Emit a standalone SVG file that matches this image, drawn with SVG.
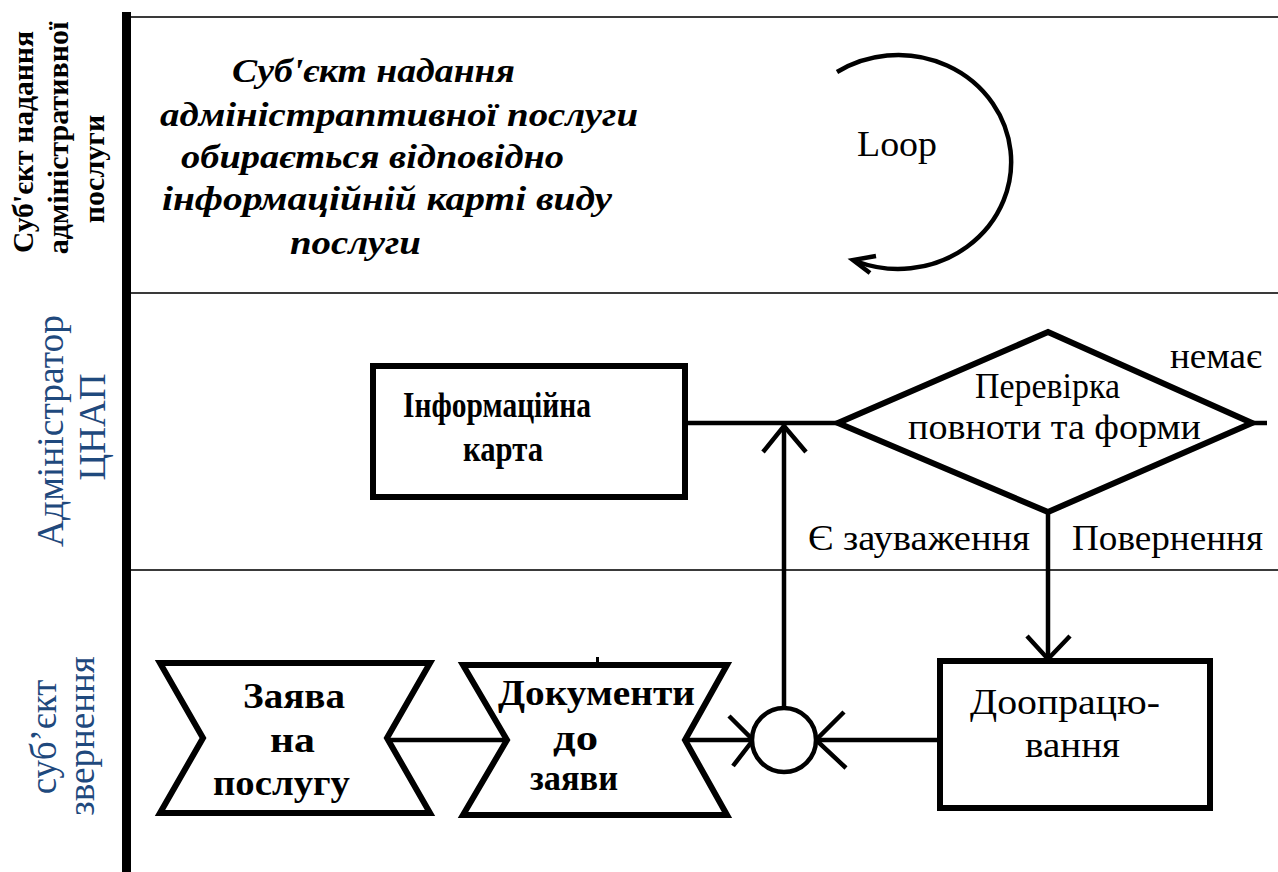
<svg xmlns="http://www.w3.org/2000/svg" width="1278" height="872" viewBox="0 0 1278 872">
  <style>
    .lane-line { stroke: #3a3a3a; stroke-width: 2; fill: none; }
    .bar { fill: #000; }
    .shape { fill: #fff; stroke: #000; stroke-width: 6; stroke-linejoin: miter; }
    .conn { fill: none; stroke: #000; stroke-width: 4.5; stroke-linecap: butt; stroke-linejoin: miter; }
    text { font-family: 'Liberation Serif', 'Times New Roman', serif; }
    .lbl-top { font-weight: bold; font-size: 30px; fill: #000; }
    .lbl-blue { font-size: 37px; fill: #1F497D; }
    .note { font-weight: bold; font-style: italic; font-size: 33px; fill: #000; }
    .bold { font-weight: bold; font-size: 36px; fill: #000; }
    .reg { font-size: 35px; fill: #000; }
  </style>

  <rect width="1278" height="872" fill="#fff"/>

  <!-- swimlane frame -->
  <g id="lanes">
    <line class="lane-line" x1="131" y1="17" x2="1278" y2="17"/>
    <line class="lane-line" x1="131" y1="293" x2="1278" y2="293"/>
    <line class="lane-line" x1="131" y1="570" x2="1278" y2="570"/>
    <rect class="bar" x="122" y="12" width="9" height="860"/>
  </g>

  <!-- lane titles -->
  <g id="lane-provider">
    <text class="lbl-top" text-anchor="middle" transform="translate(33,142) rotate(-90)" textLength="222" lengthAdjust="spacingAndGlyphs">Суб'єкт надання</text>
    <text class="lbl-top" text-anchor="middle" transform="translate(68,138) rotate(-90)">адміністративної</text>
    <text class="lbl-top" text-anchor="middle" transform="translate(104,169) rotate(-90)">послуги</text>
  </g>
  <g id="lane-admin">
    <text class="lbl-blue" text-anchor="middle" transform="translate(63,431) rotate(-90)" textLength="232" lengthAdjust="spacingAndGlyphs">Адміністратор</text>
    <text class="lbl-blue" text-anchor="middle" transform="translate(105,427) rotate(-90)">ЦНАП</text>
  </g>
  <g id="lane-applicant">
    <text class="lbl-blue" text-anchor="middle" transform="translate(56,737) rotate(-90)">суб’єкт</text>
    <text class="lbl-blue" text-anchor="middle" transform="translate(94,736) rotate(-90)">звернення</text>
  </g>

  <!-- note in the provider lane -->
  <g id="provider-note">
    <text class="note" x="232" y="82" textLength="283" lengthAdjust="spacingAndGlyphs">Суб'єкт надання</text>
    <text class="note" x="160" y="126" textLength="478" lengthAdjust="spacingAndGlyphs">адміністраптивної послуги</text>
    <text class="note" x="181" y="168" textLength="383" lengthAdjust="spacingAndGlyphs">обирається відповідно</text>
    <text class="note" x="162" y="210" textLength="450" lengthAdjust="spacingAndGlyphs">інформаційній карті виду</text>
    <text class="note" x="290" y="254" textLength="131" lengthAdjust="spacingAndGlyphs">послуги</text>
  </g>

  <!-- loop -->
  <g id="loop">
    <path class="conn" d="M837 72 A113 107 0 1 1 858 262"/>
    <polyline class="conn" stroke-width="3.5" points="876,256 853,260 870,273"/>
    <text class="reg" x="857" y="156" textLength="80" lengthAdjust="spacingAndGlyphs">Loop</text>
  </g>

  <!-- connectors -->
  <g id="connectors">
    <path class="conn" d="M387 740 H506"/>
    <path class="conn" d="M685 740 H752"/>
    <polyline class="conn" points="729,716 753,740 733,766"/>
    <path class="conn" d="M940 740 H816"/>
    <polyline class="conn" points="844,712 816,740 846,768"/>
    <path class="conn" d="M784 708 V425"/>
    <polyline class="conn" points="763,452 784,426 806,452"/>
    <path class="conn" d="M685 423 H838"/>
    <path class="conn" d="M1048 512 V659"/>
    <polyline class="conn" points="1027,636 1048,659 1070,636"/>
    <path class="conn" d="M1250 423 H1267"/>
  </g>

  <!-- information card -->
  <g id="info-card">
    <rect class="shape" x="373" y="366" width="312" height="131"/>
    <text class="bold" x="403" y="417" textLength="188" lengthAdjust="spacingAndGlyphs">Інформаційна</text>
    <text class="bold" x="463" y="461" textLength="80" lengthAdjust="spacingAndGlyphs">карта</text>
  </g>

  <!-- completeness check -->
  <g id="check">
    <polygon class="shape" stroke-width="5" points="1048,332 1252,423 1048,512 838,423"/>
    <text class="reg" x="975" y="398" textLength="145" lengthAdjust="spacingAndGlyphs">Перевірка</text>
    <text class="reg" x="908" y="439" textLength="293" lengthAdjust="spacingAndGlyphs">повноти та форми</text>
  </g>

  <!-- branch labels -->
  <g id="branch-labels">
    <text class="reg" x="1170" y="368" textLength="92" lengthAdjust="spacingAndGlyphs">немає</text>
    <text class="reg" x="808" y="550" textLength="222" lengthAdjust="spacingAndGlyphs">Є зауваження</text>
    <text class="reg" x="1072" y="550" textLength="191" lengthAdjust="spacingAndGlyphs">Повернення</text>
  </g>

  <!-- application -->
  <g id="application">
    <polygon class="shape" points="160,663 430,663 387,738 430,813 160,813 203,738"/>
    <text class="bold" x="243" y="708" textLength="102" lengthAdjust="spacingAndGlyphs">Заява</text>
    <text class="bold" x="270" y="752" textLength="45" lengthAdjust="spacingAndGlyphs">на</text>
    <text class="bold" x="213" y="795" textLength="137" lengthAdjust="spacingAndGlyphs">послугу</text>
  </g>

  <!-- supporting documents -->
  <g id="documents">
    <polygon class="shape" points="463,665 727,665 685,740 727,815 463,815 507,740"/>
    <rect x="596" y="657" width="3" height="6" fill="#000"/>
    <text class="bold" x="498" y="705" textLength="197" lengthAdjust="spacingAndGlyphs">Документи</text>
    <text class="bold" x="553" y="750" textLength="45" lengthAdjust="spacingAndGlyphs">до</text>
    <text class="bold" x="530" y="790" textLength="88" lengthAdjust="spacingAndGlyphs">заяви</text>
  </g>

  <!-- merge point -->
  <g id="merge">
    <circle cx="784" cy="740" r="32" fill="#fff" stroke="#000" stroke-width="4.5"/>
  </g>

  <!-- rework -->
  <g id="rework">
    <rect class="shape" stroke-width="5.5" x="940" y="661" width="270" height="147"/>
    <text class="reg" x="970" y="714" textLength="190" lengthAdjust="spacingAndGlyphs">Доопрацю-</text>
    <text class="reg" x="1025" y="757" textLength="95" lengthAdjust="spacingAndGlyphs">вання</text>
  </g>
</svg>
